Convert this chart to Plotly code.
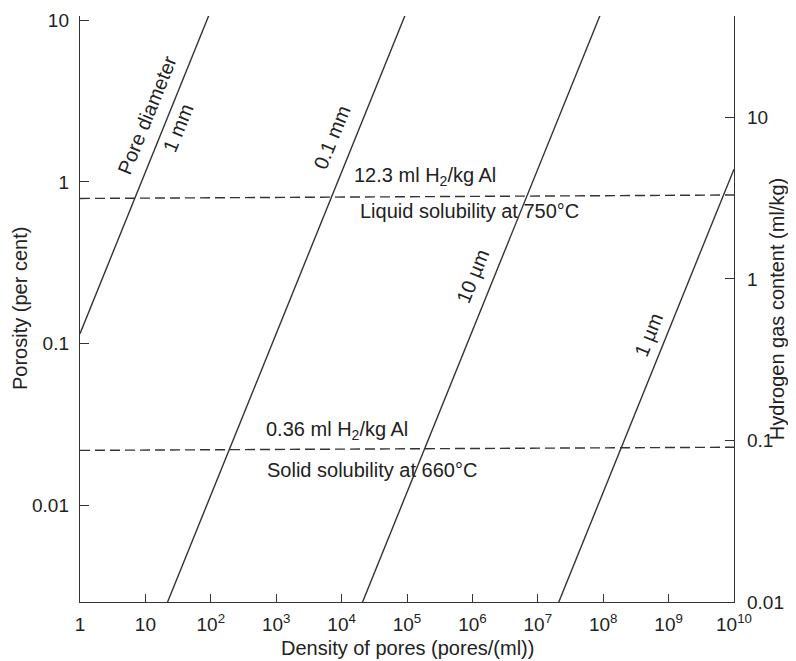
import plotly.graph_objects as go

# ---- data ----
# pore-diameter lines: density of pores (pores/ml) vs porosity (per cent)
pores_1mm = [1, 100]
poros_1mm = [0.115, 11.5]
pores_01mm = [20, 1e5]
poros_01mm = [0.0023, 11.5]
pores_10um = [2e4, 1e8]
poros_10um = [0.0024, 12]
pores_1um = [2e7, 1e10]
poros_1um = [0.0024, 1.2]

# solubility lines (dashed)
sol_x = [1, 1e10]
liquid_porosity = [0.79, 0.83]
solid_porosity = [0.0218, 0.0228]

x_tickvals = [1, 10, 1e2, 1e3, 1e4, 1e5, 1e6, 1e7, 1e8, 1e9, 1e10]
x_ticktext = ["1", "10"] + ["10<sup>%d</sup>" % k for k in range(2, 11)]
y_tickvals = [0.01, 0.1, 1, 10]
y_ticktext = ["0.01", "0.1", "1", "10"]
y2_tickvals = [0.01, 0.1, 1, 10]
y2_ticktext = ["0.01", "0.1", "1", "10"]

FONT = "Liberation Sans, Arial, Helvetica, sans-serif"
INK = "#222222"
LINE = "#333333"

fig = go.Figure()

for xs, ys in [(pores_1mm, poros_1mm), (pores_01mm, poros_01mm),
               (pores_10um, poros_10um), (pores_1um, poros_1um)]:
    fig.add_trace(go.Scatter(x=xs, y=ys, mode="lines",
                             line=dict(color=LINE, width=1.4),
                             showlegend=False, hoverinfo="skip"))

for ys in [liquid_porosity, solid_porosity]:
    fig.add_trace(go.Scatter(x=sol_x, y=ys, mode="lines",
                             line=dict(color=LINE, width=1.4, dash="10px,5px"),
                             showlegend=False, hoverinfo="skip"))

# invisible trace to activate the right axis
fig.add_trace(go.Scatter(x=[1], y=[1], yaxis="y2", mode="markers",
                         marker=dict(opacity=0), showlegend=False,
                         hoverinfo="skip"))

ann_font = dict(family=FONT, size=20, color=INK)
ang = -68
annots = [
    ("Pore diameter", 1.024, 0.415, ang, 0),
    ("1 mm", 1.50, 0.335, ang, 0),
    ("0.1 mm", 3.85, 0.28, ang, 0),
    ("10 µm", 6.01, -0.584, ang, 0),
    ("1 µm", 8.69, -0.946, ang, 0),
    ("12.3 ml H<sub>2</sub>/kg Al", 5.28, 0.016, 0, 3),
    ("Liquid solubility at 750°C", 5.96, -0.18, 0, 0),
    ("0.36 ml H<sub>2</sub>/kg Al", 3.93, -1.558, 0, 3),
    ("Solid solubility at 660°C", 4.46, -1.785, 0, 0),
]
for text, xl, yl, a, ys in annots:
    fig.add_annotation(x=xl, y=yl, xref="x", yref="y", text=text,
                       showarrow=False, textangle=a, font=ann_font,
                       yshift=ys)

title_font = dict(family=FONT, size=20, color=INK)
fig.add_annotation(text="Density of pores (pores/(ml))", xref="paper",
                   yref="paper", x=0.5, y=-0.0777, showarrow=False,
                   font=title_font, xanchor="center", yanchor="middle")
fig.add_annotation(text="Porosity (per cent)", xref="paper", yref="paper",
                   x=-0.0917, y=0.5, showarrow=False, textangle=-90,
                   font=title_font, xanchor="center", yanchor="middle")
fig.add_annotation(text="Hydrogen gas content (ml/kg)", xref="paper",
                   yref="paper", x=1.066, y=0.5, showarrow=False,
                   textangle=-90, font=title_font, xanchor="center",
                   yanchor="middle")

axis_font = dict(family=FONT, size=19, color=INK)

# page body has an 8px margin: shift the figure so the plot lands where
# the reference has it
fig.update_layout(
    width=788, height=653,
    margin=dict(l=72, r=62, t=2, b=59),
    paper_bgcolor="white", plot_bgcolor="white",
    font=dict(family=FONT, color=INK),
    xaxis=dict(type="log", range=[0, 10], showgrid=False, zeroline=False,
               showline=True, linecolor=LINE, linewidth=1.4,
               ticks="inside", ticklen=8, tickcolor=LINE, tickwidth=1.2,
               tickvals=x_tickvals, ticktext=x_ticktext,
               tickfont=axis_font, ticklabelstandoff=5,
               ticklabeloverflow="allow"),
    yaxis=dict(type="log", range=[-2.60, 1.027], showgrid=False,
               zeroline=False, showline=True, linecolor=LINE, linewidth=1.4,
               ticks="inside", ticklen=9, tickcolor=LINE, tickwidth=1.2,
               tickvals=y_tickvals, ticktext=y_ticktext,
               tickfont=axis_font, ticklabelstandoff=6,
               ticklabeloverflow="allow"),
    yaxis2=dict(type="log", range=[-2.0, 1.627], overlaying="y",
                side="right", showgrid=False, zeroline=False,
                showline=True, linecolor=LINE, linewidth=1.4,
                ticks="inside", ticklen=9, tickcolor=LINE, tickwidth=1.2,
                tickvals=y2_tickvals, ticktext=y2_ticktext,
                tickfont=axis_font, ticklabelstandoff=8,
                ticklabeloverflow="allow"),
)

fig.write_html("out.html")
